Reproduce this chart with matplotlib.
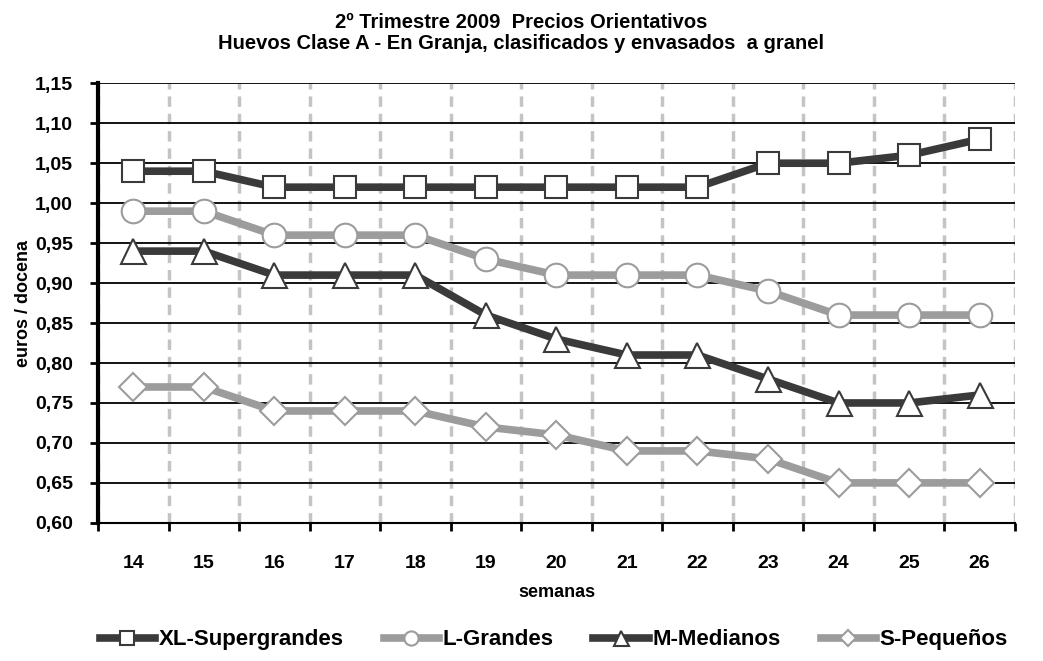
import numpy as np
import matplotlib.pyplot as plt
from matplotlib.ticker import FuncFormatter

semanas = [14, 15, 16, 17, 18, 19, 20, 21, 22, 23, 24, 25, 26]
xl = [1.04, 1.04, 1.02, 1.02, 1.02, 1.02, 1.02, 1.02, 1.02, 1.05, 1.05, 1.06, 1.08]
l_grandes = [0.99, 0.99, 0.96, 0.96, 0.96, 0.93, 0.91, 0.91, 0.91, 0.89, 0.86, 0.86, 0.86]
m_medianos = [0.94, 0.94, 0.91, 0.91, 0.91, 0.86, 0.83, 0.81, 0.81, 0.78, 0.75, 0.75, 0.76]
s_pequenos = [0.77, 0.77, 0.74, 0.74, 0.74, 0.72, 0.71, 0.69, 0.69, 0.68, 0.65, 0.65, 0.65]

dark = "#3a3a3a"
light = "#9c9c9c"

plt.rcParams['font.family'] = ['Liberation Sans', 'DejaVu Sans']

fig = plt.figure(figsize=(10.43, 6.61), dpi=100)
ax = fig.add_axes([0.094, 0.209, 0.879, 0.665])

x = np.arange(len(semanas))
series = [
    (xl, "XL-Supergrandes", dark, "s", dark, 16),
    (l_grandes, "L-Grandes", light, "o", light, 17),
    (m_medianos, "M-Medianos", dark, "^", dark, 18),
    (s_pequenos, "S-Pequeños", light, "D", light, 14),
]
for vals, name, col, mk, ec, ms in series:
    ax.plot(x, vals, color=col, lw=5.5, marker=mk, markersize=ms,
            markerfacecolor="white", markeredgecolor=ec, markeredgewidth=1.5,
            label=name, zorder=3)

ax.set_xlim(-0.5, len(semanas) - 0.5)
ax.set_ylim(0.60, 1.15)
ax.set_yticks(np.arange(0.60, 1.151, 0.05))
ax.yaxis.set_major_formatter(FuncFormatter(lambda v, p: f"{v:.2f}".replace(".", ",")))

# ticks at category boundaries, labels at centers
ax.set_xticks(np.arange(-0.5, len(semanas), 1.0))
ax.set_xticklabels([])
ax.set_xticks(x, minor=True)
ax.set_xticklabels([str(s) for s in semanas], minor=True)
ax.tick_params(axis='x', which='minor', length=0, pad=23, labelsize=14)
ax.tick_params(axis='x', which='major', length=6, width=2, direction='out', color='black')
ax.tick_params(axis='y', length=6, width=2, direction='out', pad=12, labelsize=14)
for t in ax.get_xticklabels(minor=True) + ax.get_yticklabels():
    t.set_fontweight('bold')

ax.grid(axis='y', color='black', lw=1.3, zorder=1)
ax.grid(axis='x', which='major', color='#c4c4c4', lw=2.5, ls=(0, (3, 2)), zorder=1)

for s in ['top', 'right']:
    ax.spines[s].set_visible(False)
ax.spines['left'].set_linewidth(3)
ax.spines['bottom'].set_linewidth(1.5)

ax.set_xlabel("semanas", fontsize=13, fontweight='bold', labelpad=9)
ax.set_ylabel("euros / docena", fontsize=13, fontweight='bold', labelpad=2)

fig.suptitle("2º Trimestre 2009  Precios Orientativos\nHuevos Clase A - En Granja, clasificados y envasados  a granel",
             fontsize=14.5, fontweight='bold', y=0.98, linespacing=1.1)

ax.legend(loc='upper center', bbox_to_anchor=(0.497, -0.197), ncol=4, frameon=False,
          prop={'size': 16, 'weight': 'bold'}, handlelength=2.5, columnspacing=1.8,
          handletextpad=0.15, markerscale=0.6)

fig.savefig("out.png", dpi=100)
